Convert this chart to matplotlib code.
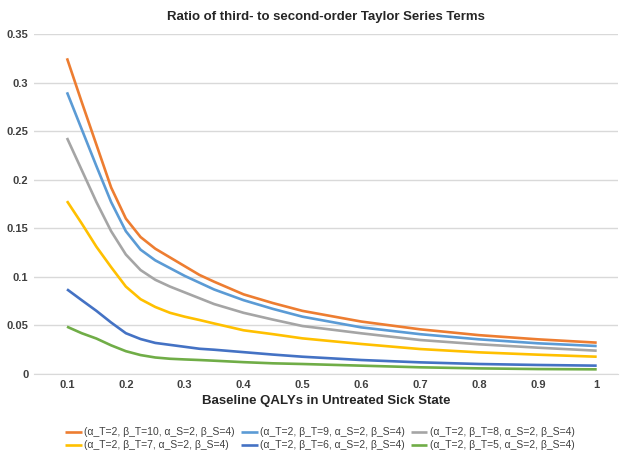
import matplotlib
matplotlib.use("Agg")
import matplotlib.pyplot as plt

# baseline QALY values where the ratio was evaluated
qaly = [0.1, 0.125, 0.15, 0.175, 0.2, 0.225, 0.25, 0.275, 0.3, 0.325, 0.35,
        0.4, 0.45, 0.5, 0.6, 0.7, 0.8, 0.9, 1.0]

ratio_bt10 = [0.325, 0.280, 0.236, 0.192, 0.160, 0.141, 0.129, 0.120, 0.111, 0.102, 0.095,
              0.082, 0.073, 0.065, 0.054, 0.046, 0.040, 0.0357, 0.0323]
ratio_bt9 = [0.290, 0.252, 0.214, 0.177, 0.147, 0.128, 0.117, 0.109, 0.101, 0.094, 0.087,
             0.076, 0.067, 0.059, 0.048, 0.041, 0.0357, 0.0316, 0.0288]
ratio_bt8 = [0.243, 0.210, 0.177, 0.147, 0.123, 0.107, 0.097, 0.090, 0.084, 0.078, 0.072,
             0.063, 0.056, 0.0494, 0.0419, 0.035, 0.0306, 0.0271, 0.024]
ratio_bt7 = [0.178, 0.155, 0.131, 0.110, 0.090, 0.077, 0.069, 0.063, 0.059, 0.0556, 0.052,
             0.045, 0.041, 0.0367, 0.0309, 0.0257, 0.0223, 0.0199, 0.0178]
ratio_bt6 = [0.0872, 0.076, 0.065, 0.053, 0.042, 0.036, 0.032, 0.030, 0.028, 0.026, 0.025,
             0.0225, 0.020, 0.0178, 0.0144, 0.012, 0.0103, 0.0093, 0.0086]
ratio_bt5 = [0.0487, 0.042, 0.0365, 0.0295, 0.0235, 0.0195, 0.017, 0.0157, 0.015, 0.0144, 0.0137,
             0.0122, 0.011, 0.0103, 0.0086, 0.0069, 0.0058, 0.0051, 0.0048]

labels = [
    "(α_T=2, β_T=10, α_S=2, β_S=4)",
    "(α_T=2, β_T=9, α_S=2, β_S=4)",
    "(α_T=2, β_T=8, α_S=2, β_S=4)",
    "(α_T=2, β_T=7, α_S=2, β_S=4)",
    "(α_T=2, β_T=6, α_S=2, β_S=4)",
    "(α_T=2, β_T=5, α_S=2, β_S=4)",
]
colors = ["#ED7D31", "#5B9BD5", "#A5A5A5", "#FFC000", "#4472C4", "#70AD47"]
xticks = [0.1, 0.2, 0.3, 0.4, 0.5, 0.6, 0.7, 0.8, 0.9, 1]
yticks = [0, 0.05, 0.1, 0.15, 0.2, 0.25, 0.3, 0.35]

plt.rcParams["font.family"] = ["Liberation Sans", "DejaVu Sans"]

fig = plt.figure(figsize=(6.21, 4.57), dpi=100)
ax = fig.add_axes([0.0548, 0.1816, 0.9402, 0.744])

series = [ratio_bt10, ratio_bt9, ratio_bt8, ratio_bt7, ratio_bt6, ratio_bt5]
lines = []
for vals, lab, col in zip(series, labels, colors):
    ln, = ax.plot(qaly, vals, color=col, lw=1.9, label=lab,
                  solid_capstyle="butt", solid_joinstyle="round")
    lines.append(ln)

ax.set_xlim(0.044, 1.036)
ax.set_ylim(0, 0.35)
ax.set_xticks(xticks)
ax.set_xticklabels([f"{t:g}" for t in xticks], fontweight="bold", fontsize=8, color="#404040")
ax.set_yticks(yticks)
ax.set_yticklabels([f"{t:g}" for t in yticks], fontweight="bold", fontsize=8, color="#404040")
ax.tick_params(length=0, pad=4)
ax.yaxis.grid(True, color="#D9D9D9", lw=1)
ax.set_axisbelow(True)
for s in ["top", "right", "left"]:
    ax.spines[s].set_visible(False)
ax.spines["bottom"].set_color("#D9D9D9")

ax.set_title("Ratio of third- to second-order Taylor Series Terms",
             fontsize=9.5, fontweight="bold", color="#262626", pad=10)
ax.set_xlabel("Baseline QALYs in Untreated Sick State",
              fontsize=9.5, fontweight="bold", color="#262626", labelpad=4)

# row-major order for a 3-column legend
order = [0, 3, 1, 4, 2, 5]
fig.legend([lines[i] for i in order], [labels[i] for i in order],
           loc="center", bbox_to_anchor=(0.515, 0.04), ncol=3, frameon=False,
           fontsize=7.5, handlelength=1.6, handletextpad=0.2, columnspacing=0.6,
           labelspacing=0.3, labelcolor="#404040")

fig.savefig("out.png", dpi=100)
